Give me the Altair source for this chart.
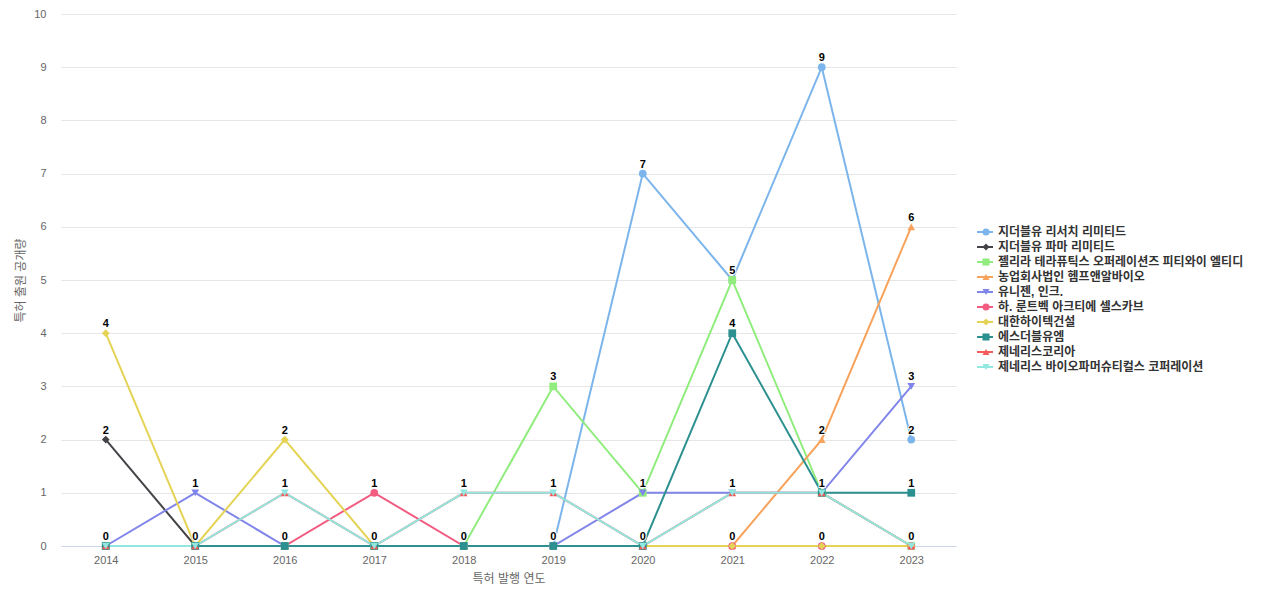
import altair as alt
import pandas as pd

years = ["2014", "2015", "2016", "2017", "2018", "2019", "2020", "2021", "2022", "2023"]
series = [
    "지더블유 리서치 리미티드",
    "지더블유 파마 리미티드",
    "젤리라 테라퓨틱스 오퍼레이션즈 피티와이 엘티디",
    "농업회사법인 헴프앤알바이오",
    "유니젠, 인크.",
    "하. 룬트벡 아크티에 셀스카브",
    "대한하이텍건설",
    "에스더블유엠",
    "제네리스코리아",
    "제네리스 바이오파머슈티컬스 코퍼레이션",
]
values = [
    [0, 0, 0, 0, 0, 0, 7, 5, 9, 2],
    [2, 0, 0, 0, 0, 0, 0, 0, 0, 0],
    [0, 0, 0, 0, 0, 3, 1, 5, 1, 0],
    [0, 0, 0, 0, 0, 0, 0, 0, 2, 6],
    [0, 1, 0, 0, 0, 0, 1, 1, 1, 3],
    [0, 0, 0, 1, 0, 0, 0, 0, 0, 0],
    [4, 0, 2, 0, 0, 0, 0, 0, 0, 0],
    [0, 0, 0, 0, 0, 0, 0, 4, 1, 1],
    [0, 0, 1, 0, 1, 1, 0, 1, 1, 0],
    [0, 0, 1, 0, 1, 1, 0, 1, 1, 0],
]
colors = ["#7cb5ec", "#434348", "#90ed7d", "#f7a35c", "#8085e9",
          "#f15c80", "#e4d354", "#2b908f", "#f45b5b", "#91e8e1"]
shapes = ["circle", "diamond", "square", "triangle-up", "triangle-down",
          "circle", "diamond", "square", "triangle-up", "triangle-down"]

rows = []
for si, (name, vals) in enumerate(zip(series, values)):
    for y, v in zip(years, vals):
        rows.append({"series": name, "seriesLine": name, "year": y, "value": v, "order": si})
df = pd.DataFrame(rows)
labels_df = df.drop_duplicates(subset=["year", "value"])

FONT = "'Liberation Sans', 'Noto Sans CJK KR', sans-serif"

x_enc = alt.X("year:O", scale=alt.Scale(domain=years, paddingOuter=0.5),
              axis=alt.Axis(title="특허 발행 연도", labelAngle=0, ticks=False,
                            domainColor="#ccd6eb", grid=False, labelPadding=8,
                            titlePadding=8))
y_enc = alt.Y("value:Q", scale=alt.Scale(domain=[0, 10], nice=False),
              axis=alt.Axis(title="특허 출원 공개량", values=list(range(11)),
                            ticks=False, domain=False, gridColor="#e6e6e6",
                            labelPadding=15, titlePadding=6))

LX, LY = 915, 211
common = dict(title=None, orient="none", legendX=LX, legendY=LY, labelFontSize=12,
              labelFontWeight="bold", labelFont=FONT, rowPadding=1, labelOffset=4,
              labelLimit=400, clipHeight=14)

stroke_legend = alt.Legend(symbolType="stroke", symbolSize=256, symbolStrokeWidth=2,
                           labelColor="#333333", symbolOffset=0, **common)
marker_legend = alt.Legend(symbolSize=50, symbolStrokeWidth=0, labelOpacity=0,
                           symbolOffset=4, **common)

base = alt.Chart(df)

lines = base.mark_line(strokeWidth=2).encode(
    x=x_enc, y=y_enc,
    stroke=alt.Stroke("seriesLine:N", sort=series, scale=alt.Scale(range=colors),
                      legend=stroke_legend),
    order="order:Q",
)

points = base.mark_point(filled=True, size=60, opacity=1).encode(
    x=x_enc, y=y_enc,
    fill=alt.Fill("series:N", scale=alt.Scale(domain=series, range=colors),
                  legend=marker_legend),
    shape=alt.Shape("series:N", scale=alt.Scale(domain=series, range=shapes),
                    legend=marker_legend),
)

halo = alt.Chart(labels_df).mark_text(
    baseline="bottom", dy=-4, fontSize=11, fontWeight="bold", font=FONT,
    stroke="white", strokeWidth=2, fill="white"
).encode(x=x_enc, y=y_enc, text="value:Q")

texts = alt.Chart(labels_df).mark_text(
    baseline="bottom", dy=-4, fontSize=11, fontWeight="bold", font=FONT, color="#000000"
).encode(x=x_enc, y=y_enc, text="value:Q")

chart = alt.layer(lines, points, halo, texts).properties(
    width=895, height=532,
    autosize=alt.AutoSizeParams(type="none"),
    padding={"left": 53, "top": 6, "right": 300, "bottom": 40},
).configure_view(stroke=None).configure_axis(
    labelFont=FONT, titleFont=FONT, labelFontSize=11, labelColor="#666666",
    titleFontSize=12, titleColor="#666666", titleFontWeight="normal"
)

chart.save("out.html", embed_options={"renderer": "svg", "actions": False})
